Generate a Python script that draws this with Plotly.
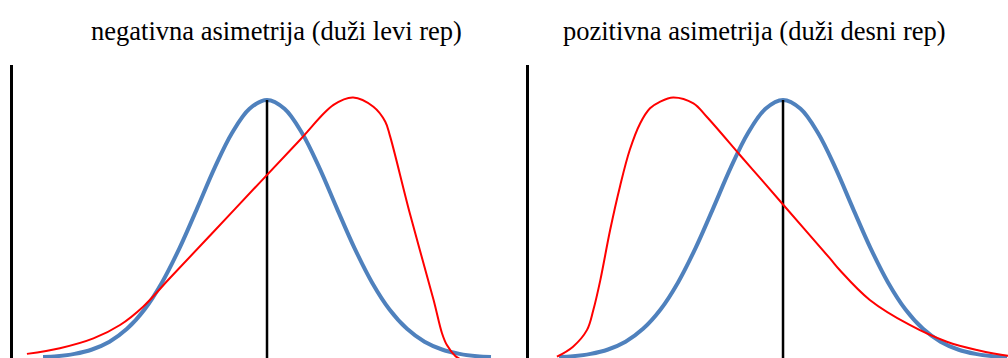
import plotly.graph_objects as go

# Titles
titles = ["negativna asimetrija (duži levi rep)", "pozitivna asimetrija (duži desni rep)"]

# Symmetric (normal) reference curve: x in sigma-like units, y relative height (peak = 1)
normal_x = [-3.2, -3.0, -2.75, -2.5, -2.25, -2.0, -1.75, -1.5, -1.25, -1.0, -0.75, -0.5, -0.25, 0.0,
            0.25, 0.5, 0.75, 1.0, 1.25, 1.5, 1.75, 2.0, 2.25, 2.5, 2.75, 3.0, 3.2]
normal_y = [0.004, 0.007, 0.016, 0.033, 0.063, 0.113, 0.188, 0.293, 0.426, 0.579, 0.736, 0.872, 0.966, 1.0,
            0.966, 0.872, 0.736, 0.579, 0.426, 0.293, 0.188, 0.113, 0.063, 0.033, 0.016, 0.007, 0.004]

# Negatively skewed curve (longer left tail)
neg_x = [-3.43, -2.96, -2.48, -2.10, -1.77, -1.39, -0.81, -0.10, 0.47, 0.95, 1.23, 1.52, 1.69, 1.76,
         2.04, 2.38, 2.50, 2.57, 2.69, 2.80]
neg_y = [0.016, 0.038, 0.076, 0.128, 0.199, 0.309, 0.476, 0.681, 0.845, 0.981, 1.010, 0.974, 0.916, 0.858,
         0.561, 0.225, 0.096, 0.050, 0.008, -0.01]

# Positively skewed curve (longer right tail)
pos_x = [-3.23, -3.00, -2.80, -2.71, -2.61, -2.47, -2.33, -2.19, -2.04, -1.90, -1.76, -1.57, -1.28,
         -1.09, -0.61, -0.33, 0.00, 0.67, 0.81, 1.24, 1.81, 2.34, 2.77, 3.21, 3.40]
pos_y = [0.005, 0.044, 0.109, 0.186, 0.302, 0.496, 0.664, 0.806, 0.910, 0.968, 0.993, 1.010, 0.987,
         0.935, 0.785, 0.698, 0.595, 0.386, 0.341, 0.225, 0.128, 0.063, 0.031, 0.009, 0.006]

# Mean line (center of the normal curve)
mean_x = 0.0
mean_top = 1.0

BLUE = "#4F81BD"
RED = "#FF0000"

fig = go.Figure()
for i, (sx, sy) in enumerate([(neg_x, neg_y), (pos_x, pos_y)]):
    xa = "x" if i == 0 else "x2"
    ya = "y" if i == 0 else "y2"
    fig.add_trace(go.Scatter(x=normal_x, y=normal_y, mode="lines", xaxis=xa, yaxis=ya,
                             line=dict(color=BLUE, width=4, shape="spline", smoothing=1.0),
                             hoverinfo="skip"))
    fig.add_trace(go.Scatter(x=[mean_x, mean_x], y=[0, mean_top], mode="lines", xaxis=xa, yaxis=ya,
                             line=dict(color="black", width=2.5), hoverinfo="skip"))
    fig.add_trace(go.Scatter(x=sx, y=sy, mode="lines", xaxis=xa, yaxis=ya,
                             line=dict(color=RED, width=2, shape="spline", smoothing=1.0),
                             hoverinfo="skip"))

axis_common = dict(showgrid=False, zeroline=False, showticklabels=False, ticks="")
yaxis_common = dict(axis_common, showline=True, linecolor="black", linewidth=2.5,
                    range=[0, 1.1357], domain=[0, 293 / 358])

fig.update_layout(
    width=1008, height=358,
    margin=dict(l=0, r=0, t=0, b=0),
    paper_bgcolor="white", plot_bgcolor="white",
    showlegend=False,
    xaxis=dict(axis_common, showline=False, domain=[13 / 1008, 529 / 1008], range=[-3.629, 3.743]),
    xaxis2=dict(axis_common, showline=False, domain=[529 / 1008, 1.0], range=[-3.629, 3.214]),
    yaxis=dict(yaxis_common, anchor="x"),
    yaxis2=dict(yaxis_common, anchor="x2"),
)

for title, xc in zip(titles, [276 / 1008, 754 / 1008]):
    fig.add_annotation(text=title, x=xc, y=(358 - 31) / 358, xref="paper", yref="paper",
                       xanchor="center", yanchor="middle", showarrow=False,
                       font=dict(family="Liberation Serif, Times New Roman, serif", size=26.5, color="black"))

fig.write_html("out.html", config={"displayModeBar": False},
               post_script="document.body.style.margin='0px';")
